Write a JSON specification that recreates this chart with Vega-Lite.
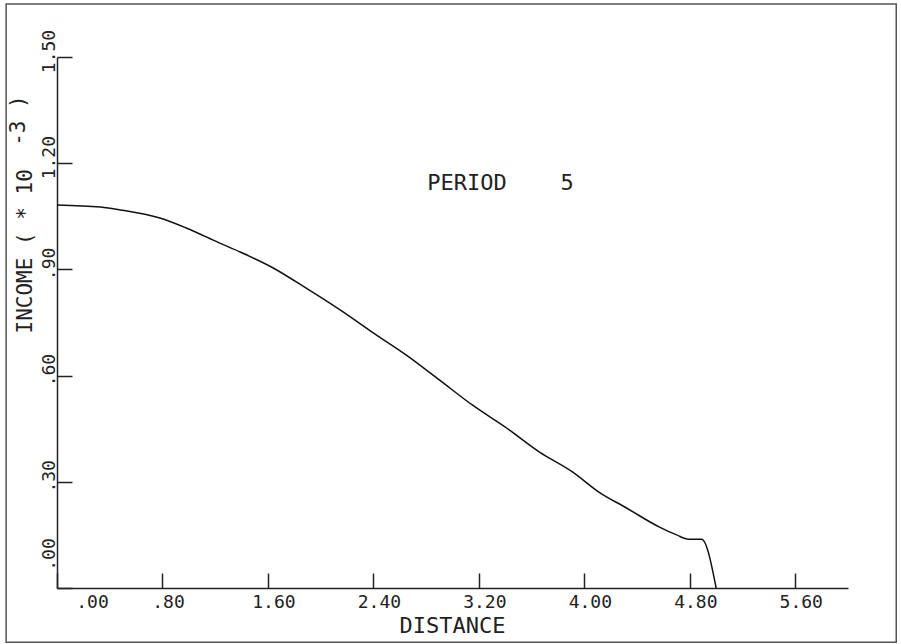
{
  "$schema": "https://vega.github.io/schema/vega-lite/v6.json",
  "width": 791,
  "height": 531,
  "autosize": {"type": "none"},
  "padding": {"left": 57, "top": 57, "right": 53, "bottom": 56},
  "background": "white",
  "config": {
    "view": {"stroke": null},
    "font": "DejaVu Sans Mono",
    "axis": {
      "labelFont": "DejaVu Sans Mono", "titleFont": "DejaVu Sans Mono",
      "labelColor": "#222", "titleColor": "#222",
      "labelFontSize": 18, "labelFlush": false, "labelOverlap": false,
      "tickSize": -15, "tickWidth": 1.5, "tickColor": "#222",
      "domainColor": "#222", "domainWidth": 1.5, "grid": false,
      "titleFontWeight": "normal",
      "labelExpr": "datum.value == 0 ? '.00' : (datum.value < 1 ? '\u00a0' + substring(format(datum.value, '.2f'), 1) : format(datum.value, '.2f'))"
    },
    "axisX": {
      "labelAngle": 0, "labelAlign": "center", "labelBaseline": "top", "labelPadding": 20,
      "labelOffset": {"condition": {"test": "datum.value == 0", "value": 35}, "value": 5.5},
      "titleFontSize": 22, "titleAlign": "center", "titleBaseline": "alphabetic",
      "titleX": 395, "titleY": 44
    },
    "axisY": {
      "labelAngle": 270, "labelAlign": "center", "labelBaseline": "alphabetic", "labelPadding": 18,
      "labelOffset": {"condition": {"test": "datum.value == 0", "value": -34}, "value": -6},
      "titleFontSize": 21, "titleAngle": 270, "titleAlign": "left", "titleBaseline": "alphabetic",
      "titleX": -26, "titleY": 276
    },
    "text": {"font": "DejaVu Sans Mono"}
  },
  "datasets": {
    "curve": [
      {"x": 0.0, "y": 1.082},
      {"x": 0.33, "y": 1.076},
      {"x": 0.48, "y": 1.068},
      {"x": 0.78, "y": 1.045},
      {"x": 0.98, "y": 1.017},
      {"x": 1.23, "y": 0.975},
      {"x": 1.39, "y": 0.949},
      {"x": 1.64, "y": 0.904},
      {"x": 1.89, "y": 0.847},
      {"x": 2.17, "y": 0.78},
      {"x": 2.39, "y": 0.723},
      {"x": 2.65, "y": 0.658},
      {"x": 2.9, "y": 0.588},
      {"x": 3.15, "y": 0.517},
      {"x": 3.41, "y": 0.452},
      {"x": 3.66, "y": 0.384},
      {"x": 3.91, "y": 0.328},
      {"x": 4.11, "y": 0.271},
      {"x": 4.32, "y": 0.226},
      {"x": 4.57, "y": 0.172},
      {"x": 4.7, "y": 0.15},
      {"x": 4.79, "y": 0.138},
      {"x": 4.89, "y": 0.138},
      {"x": 5.0, "y": 0.0}
    ],
    "notes": [
      {"x": 2.808, "y": 1.124, "text": "PERIOD"},
      {"x": 3.82, "y": 1.124, "text": "5"}
    ],
    "exponent": [
      {"x": -0.242, "y": 1.249, "text": "-3 )"}
    ],
    "frame": [
      {"x": -0.386, "xe": 6.366, "y": -0.153, "ye": 1.65}
    ]
  },
  "layer": [
    {
      "data": {"name": "curve"},
      "mark": {"type": "line", "color": "#111", "strokeWidth": 1.5, "interpolate": "monotone"},
      "encoding": {
        "x": {
          "field": "x", "type": "quantitative", "title": "DISTANCE",
          "scale": {"domain": [0, 6], "nice": false, "zero": false},
          "axis": {"values": [0, 0.8, 1.6, 2.4, 3.2, 4.0, 4.8, 5.6], "title": "DISTANCE"}
        },
        "y": {
          "field": "y", "type": "quantitative", "title": "INCOME ( * 10",
          "scale": {"domain": [0, 1.5], "nice": false, "zero": false},
          "axis": {"values": [0, 0.3, 0.6, 0.9, 1.2, 1.5], "title": "INCOME ( * 10"}
        }
      }
    },
    {
      "data": {"name": "notes"},
      "mark": {"type": "text", "fontSize": 22, "align": "left", "baseline": "alphabetic", "color": "#222"},
      "encoding": {
        "x": {"field": "x", "type": "quantitative", "title": "DISTANCE"},
        "y": {"field": "y", "type": "quantitative", "title": "INCOME ( * 10"},
        "text": {"field": "text"}
      }
    },
    {
      "data": {"name": "exponent"},
      "mark": {"type": "text", "fontSize": 21, "align": "left", "baseline": "alphabetic", "angle": 270, "color": "#222", "clip": false},
      "encoding": {
        "x": {"field": "x", "type": "quantitative", "title": "DISTANCE"},
        "y": {"field": "y", "type": "quantitative", "title": "INCOME ( * 10"},
        "text": {"field": "text"}
      }
    },
    {
      "data": {"name": "frame"},
      "mark": {"type": "rect", "fillOpacity": 0, "stroke": "#555", "strokeWidth": 1.5, "clip": false},
      "encoding": {
        "x": {"field": "x", "type": "quantitative", "title": "DISTANCE"},
        "x2": {"field": "xe"},
        "y": {"field": "y", "type": "quantitative", "title": "INCOME ( * 10"},
        "y2": {"field": "ye"}
      }
    }
  ]
}
